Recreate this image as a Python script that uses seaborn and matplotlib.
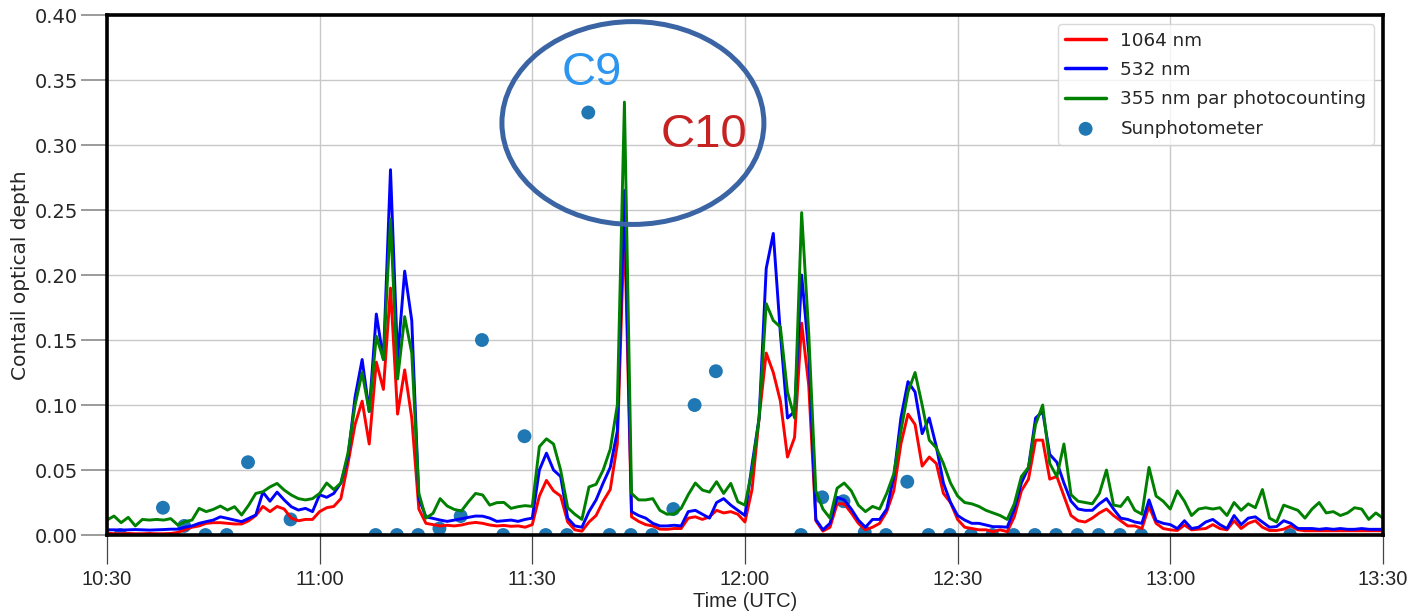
import numpy as np
import pandas as pd
import matplotlib
matplotlib.use("Agg")
import matplotlib.pyplot as plt
import matplotlib.dates as mdates
from matplotlib.patches import Ellipse
from matplotlib import font_manager
import seaborn as sns

# Contrail optical depth retrieved by the lidar, one value per minute, 10:30 -> 13:30 UTC
od_1064 = [
    0.0015, 0.001, 0.001, 0.0012, 0.001, 0.001, 0.0012, 0.001, 0.001, 0.0012,
    0.002, 0.004, 0.006, 0.007, 0.009, 0.0095, 0.0095, 0.009, 0.0085, 0.0085,
    0.011, 0.015, 0.022, 0.018, 0.022, 0.020, 0.013, 0.011, 0.012, 0.012,
    0.018, 0.021, 0.022, 0.028, 0.055, 0.085, 0.103, 0.070, 0.133, 0.112,
    0.190, 0.093, 0.127, 0.090, 0.020, 0.009, 0.008, 0.007, 0.0075, 0.007,
    0.0077, 0.009, 0.0097, 0.009, 0.0077, 0.007, 0.0074, 0.0067, 0.007, 0.006,
    0.008, 0.030, 0.042, 0.034, 0.030, 0.010, 0.004, 0.003, 0.010, 0.015,
    0.026, 0.035, 0.070, 0.240, 0.014, 0.0105, 0.008, 0.007, 0.0045, 0.0044,
    0.005, 0.005, 0.013, 0.014, 0.012, 0.014, 0.019, 0.017, 0.018, 0.016,
    0.010, 0.035, 0.090, 0.140, 0.125, 0.103, 0.060, 0.075, 0.163, 0.115,
    0.011, 0.003, 0.006, 0.024, 0.024, 0.017, 0.009, 0.004, 0.006, 0.009,
    0.018, 0.034, 0.070, 0.093, 0.085, 0.053, 0.060, 0.055, 0.032, 0.025,
    0.012, 0.006, 0.005, 0.004, 0.004, 0.0026, 0.004, 0.0026, 0.014, 0.034,
    0.043, 0.073, 0.073, 0.043, 0.045, 0.030, 0.015, 0.011, 0.010, 0.013,
    0.017, 0.020, 0.015, 0.011, 0.007, 0.007, 0.005, 0.022, 0.009, 0.005,
    0.004, 0.0035, 0.0077, 0.004, 0.0045, 0.005, 0.008, 0.005, 0.004, 0.011,
    0.005, 0.009, 0.011, 0.006, 0.0035, 0.0035, 0.0045, 0.007, 0.004, 0.0033,
    0.0033, 0.0033, 0.0033, 0.0033, 0.0033, 0.0033, 0.0033, 0.0033, 0.0033, 0.0033,
    0.0033,
]

od_532 = [
    0.004, 0.004, 0.0038, 0.004, 0.0042, 0.004, 0.0038, 0.004, 0.0042, 0.0045,
    0.0045, 0.006, 0.007, 0.009, 0.0103, 0.0115, 0.014, 0.0128, 0.0115, 0.0103,
    0.0128, 0.0154, 0.033, 0.026, 0.033, 0.027, 0.0218, 0.0192, 0.0205, 0.018,
    0.031, 0.029, 0.032, 0.040, 0.060, 0.106, 0.135, 0.095, 0.170, 0.135,
    0.281, 0.135, 0.203, 0.165, 0.028, 0.014, 0.0128, 0.0115, 0.0105, 0.0115,
    0.0125, 0.0136, 0.0146, 0.0145, 0.013, 0.0105, 0.011, 0.0115, 0.0105, 0.012,
    0.013, 0.050, 0.063, 0.050, 0.045, 0.013, 0.007, 0.006, 0.018, 0.027,
    0.040, 0.052, 0.080, 0.265, 0.018, 0.015, 0.013, 0.009, 0.007, 0.007,
    0.0075, 0.007, 0.018, 0.019, 0.016, 0.013, 0.025, 0.028, 0.023, 0.019,
    0.015, 0.054, 0.090, 0.205, 0.232, 0.155, 0.090, 0.095, 0.200, 0.140,
    0.012, 0.004, 0.009, 0.029, 0.027, 0.020, 0.0115, 0.006, 0.012, 0.012,
    0.020, 0.045, 0.090, 0.118, 0.110, 0.078, 0.090, 0.068, 0.040, 0.025,
    0.015, 0.0115, 0.009, 0.009, 0.0077, 0.0064, 0.0064, 0.006, 0.020, 0.040,
    0.052, 0.090, 0.095, 0.062, 0.056, 0.040, 0.026, 0.020, 0.019, 0.019,
    0.024, 0.028, 0.020, 0.013, 0.012, 0.010, 0.009, 0.027, 0.011, 0.009,
    0.008, 0.005, 0.011, 0.005, 0.006, 0.010, 0.012, 0.008, 0.005, 0.015,
    0.008, 0.013, 0.014, 0.010, 0.006, 0.0065, 0.011, 0.009, 0.005, 0.005,
    0.005, 0.0044, 0.005, 0.0044, 0.005, 0.0044, 0.0044, 0.005, 0.0044, 0.0044,
    0.0044,
]

od_355 = [
    0.0115, 0.0146, 0.0095, 0.0136, 0.007, 0.012, 0.0115, 0.012, 0.0115, 0.0126,
    0.0077, 0.0103, 0.0115, 0.0205, 0.018, 0.0197, 0.0223, 0.0192, 0.0218, 0.0154,
    0.023, 0.032, 0.0333, 0.037, 0.0397, 0.0346, 0.0308, 0.028, 0.027, 0.028,
    0.032, 0.040, 0.035, 0.040, 0.063, 0.100, 0.125, 0.095, 0.153, 0.135,
    0.243, 0.120, 0.168, 0.140, 0.032, 0.013, 0.0167, 0.028, 0.0223, 0.0197,
    0.0185, 0.0256, 0.032, 0.0308, 0.023, 0.0249, 0.0251, 0.0205, 0.0218, 0.0226,
    0.022, 0.068, 0.074, 0.070, 0.050, 0.021, 0.016, 0.012, 0.037, 0.039,
    0.050, 0.066, 0.100, 0.333, 0.032, 0.027, 0.027, 0.028, 0.019, 0.016,
    0.0162, 0.0205, 0.031, 0.040, 0.0346, 0.033, 0.041, 0.032, 0.0397, 0.0256,
    0.023, 0.050, 0.090, 0.178, 0.165, 0.160, 0.110, 0.090, 0.248, 0.155,
    0.034, 0.020, 0.013, 0.036, 0.040, 0.034, 0.023, 0.018, 0.022, 0.020,
    0.032, 0.047, 0.080, 0.110, 0.125, 0.100, 0.073, 0.067, 0.055, 0.040,
    0.030, 0.025, 0.024, 0.022, 0.019, 0.017, 0.015, 0.012, 0.024, 0.045,
    0.052, 0.085, 0.100, 0.055, 0.045, 0.070, 0.031, 0.026, 0.025, 0.024,
    0.032, 0.050, 0.023, 0.022, 0.029, 0.019, 0.016, 0.052, 0.030, 0.026,
    0.020, 0.034, 0.026, 0.015, 0.020, 0.021, 0.020, 0.021, 0.015, 0.025,
    0.019, 0.024, 0.021, 0.035, 0.013, 0.010, 0.023, 0.021, 0.019, 0.013,
    0.020, 0.025, 0.017, 0.018, 0.015, 0.017, 0.021, 0.020, 0.012, 0.017,
    0.013,
]

# Sunphotometer retrievals (every 3 minutes where available)
sun_times = [
    "10:31:54", "10:37:54", "10:40:54", "10:43:54", "10:46:54", "10:49:54",
    "10:55:54", "11:07:54", "11:10:54", "11:13:54", "11:16:54", "11:19:54",
    "11:22:54", "11:25:54", "11:28:54", "11:31:54", "11:34:54", "11:37:54",
    "11:40:54", "11:43:54", "11:46:54", "11:49:54", "11:52:54", "11:55:54",
    "12:07:54", "12:10:54", "12:13:54", "12:16:54", "12:19:54", "12:22:54",
    "12:25:54", "12:28:54", "12:31:54", "12:34:54", "12:37:54", "12:40:54",
    "12:43:54", "12:46:54", "12:49:54", "12:52:54", "12:55:54", "13:16:54",
]
sun_od = [
    0.0, 0.021, 0.007, 0.0, 0.0, 0.056,
    0.012, 0.0, 0.0, 0.0, 0.005, 0.0146,
    0.150, 0.0, 0.076, 0.0, 0.0, 0.325,
    0.0, 0.0, 0.0, 0.020, 0.100, 0.126,
    0.0, 0.029, 0.026, 0.002, 0.0, 0.041,
    0.0, 0.0, 0.0, 0.0, 0.0, 0.0,
    0.0, 0.0, 0.0, 0.0, 0.0, 0.0,
]

series_labels = ["1064 nm", "532 nm", "355 nm par photocounting"]
series_colors = ["red", "blue", "green"]

day = "2019-01-01 "
lidar_time = pd.date_range(day + "10:30", periods=len(od_1064), freq="1min")
sun_time = pd.to_datetime([day + t for t in sun_times])

sns.set_style("white")
plt.rcParams["font.family"] = ["DejaVu Sans"]

# narrow face for the time axis, falling back to what is installed
fonts = font_manager.fontManager.ttflist
names = {f.name for f in fonts}
if "Liberation Sans Narrow" in names:
    xfont = dict(fontfamily="Liberation Sans Narrow", fontsize=18)
elif "Liberation Sans" in names:
    xfont = dict(fontfamily="Liberation Sans", fontsize=14.5)
else:
    xfont = dict(fontfamily="DejaVu Sans", fontsize=13)
label_font = "Liberation Sans" if "Liberation Sans" in names else "DejaVu Sans"

fig = plt.figure(figsize=(14.09, 6.13), dpi=100)
ax = fig.add_axes([0.0759, 0.1272, 0.9056, 0.8483])

for vals, lab, col in zip([od_1064, od_532, od_355], series_labels, series_colors):
    sns.lineplot(x=lidar_time, y=vals, color=col, lw=2.1, label=lab, ax=ax, zorder=3)

sns.scatterplot(x=sun_time, y=sun_od, color="#1f77b4", s=100, edgecolor="none",
                label="Sunphotometer", ax=ax, zorder=2)

ax.set_xlim(pd.Timestamp(day + "10:30"), pd.Timestamp(day + "13:30"))
ax.set_ylim(0, 0.40)
ax.set_yticks(np.arange(0, 0.401, 0.05))
ax.yaxis.set_major_formatter(matplotlib.ticker.FormatStrFormatter("%.2f"))
ax.xaxis.set_major_locator(mdates.MinuteLocator(byminute=[0, 30]))
ax.xaxis.set_major_formatter(mdates.DateFormatter("%H:%M"))

ax.grid(True, color="#c8c8c8", lw=1.0)
ax.set_axisbelow(True)
for sp in ax.spines.values():
    sp.set_color("black")
    sp.set_linewidth(2.6)
    sp.set_zorder(5)

ax.tick_params(axis="y", direction="out", length=19, width=1.2, color="#8a8a8a",
               labelsize=14, pad=2, left=True)
ax.tick_params(axis="x", direction="out", length=21, width=0.9, color="#444444",
               pad=4, bottom=True)
for lbl in ax.get_xticklabels():
    lbl.set(**xfont)

ax.set_ylabel("Contail optical depth", fontsize=14.5, labelpad=3)
ax.set_xlabel("Time (UTC)", labelpad=2, **xfont)

leg = ax.legend(loc="upper right", fontsize=13.2, frameon=True, handlelength=2.2,
                labelspacing=0.62, borderaxespad=0.5, fancybox=True)
leg.get_frame().set_edgecolor("#d0d0d0")
leg.get_frame().set_linewidth(1.0)
for h in leg.legend_handles[:3]:
    h.set_linewidth(2.5)

# highlighted contrails C9 / C10
ax.add_patch(Ellipse((0.4122, 0.7923), 0.2053, 0.390, transform=ax.transAxes,
                     fill=False, ec="#3a64a3", lw=3.6, zorder=6))
ax.text(0.380, 0.888, "C9", transform=ax.transAxes, color="#2b95f0", fontsize=34,
        family=label_font, ha="center", va="center", zorder=6)
ax.text(0.468, 0.769, "C10", transform=ax.transAxes, color="#c62222", fontsize=34,
        family=label_font, ha="center", va="center", zorder=6)

fig.savefig("out.png", dpi=100)
